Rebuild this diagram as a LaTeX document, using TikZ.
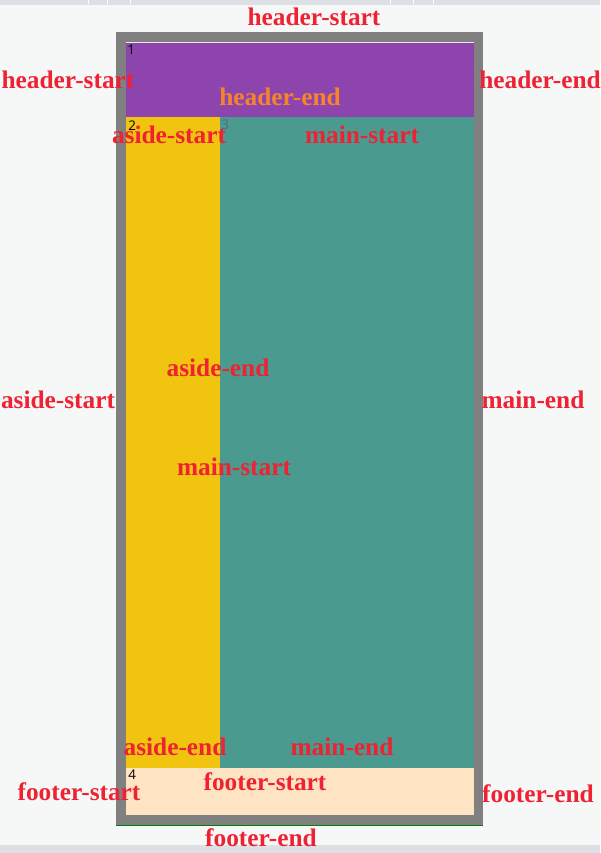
\documentclass[tikz,border=0pt]{standalone}
\usepackage{fontspec}
\setmainfont{Liberation Serif}
\newfontfamily\numfont{Open Sans}
\usepackage{tikz}

\definecolor{pagebg}{HTML}{F6F8F8}
\definecolor{barbg}{HTML}{DDE1E5}
\definecolor{framegray}{HTML}{808080}
\definecolor{headpurple}{HTML}{8E44AD}
\definecolor{asideyellow}{HTML}{F1C40F}
\definecolor{mainteal}{HTML}{4A9A8F}
\definecolor{footbisque}{HTML}{FFE4C4}
\definecolor{linered}{HTML}{EE2233}
\definecolor{lineorange}{HTML}{F5842A}
\definecolor{numblue}{HTML}{4F6A8C}

\begin{document}
\begin{tikzpicture}[x=0.75pt,y=-0.75pt]
            \tikzstyle{every node}+=[inner sep=0pt]
            \tikzstyle{gridname}=[anchor=base,text=linered,font=\fontsize{19}{19}\selectfont\bfseries]
            \tikzstyle{cellnum}=[anchor=north west,font=\numfont\fontsize{10}{10}\selectfont]
            \useasboundingbox (0,0) rectangle (600,853);
            % page and browser bars
            \fill [pagebg] (0,0) rectangle (600,853);
            \fill [barbg] (0,0) rectangle (600,5);
            \fill [barbg] (0,845) rectangle (600,853);
            \foreach \tx in {88,107,130,390,413,433}
                \draw [white,line width=0.6pt] (\tx,0) -- (\tx,4);
            % grid container
            \fill [framegray] (116,32) rectangle (483,825);
            \draw [green!50!black,line width=0.5pt] (116,825) -- (483,825);
            \fill [headpurple] (126,42) rectangle (474,117);
            \fill [asideyellow] (126,117) rectangle (220,768);
            \fill [mainteal] (220,117) rectangle (474,768);
            \fill [footbisque] (126,768) rectangle (474,815);
            \draw [white!85!gray,line width=0.5pt] (126,42) -- (474,42);
            % line numbers
            \node [cellnum] (n1) at (127,45) {1};
            \node [cellnum] (n2) at (128,121) {2};
            \node [cellnum,text=numblue] (n3) at (221,120) {3};
            \node [cellnum] (n4) at (128,770) {4};
            % line names
            \node [gridname] (hs1) at (314,26) {header-start};
            \node [gridname] (hs2) at (68,88) {header-start};
            \node [gridname] (he1) at (540,88) {header-end};
            \node [gridname,text=lineorange] (he2) at (280,105) {header-end};
            \node [gridname] (as1) at (169,143) {aside-start};
            \node [gridname] (ms1) at (362,143) {main-start};
            \node [gridname] (ae1) at (218,376) {aside-end};
            \node [gridname] (as2) at (58,408) {aside-start};
            \node [gridname] (me1) at (533,408) {main-end};
            \node [gridname] (ms2) at (234,475) {main-start};
            \node [gridname] (ae2) at (175,755) {aside-end};
            \node [gridname] (me2) at (342,755) {main-end};
            \node [gridname] (fs1) at (79,800) {footer-start};
            \node [gridname] (fs2) at (265,790) {footer-start};
            \node [gridname] (fe1) at (538,802) {footer-end};
            \node [gridname] (fe2) at (261,846) {footer-end};
            \end{tikzpicture}
\end{document}
